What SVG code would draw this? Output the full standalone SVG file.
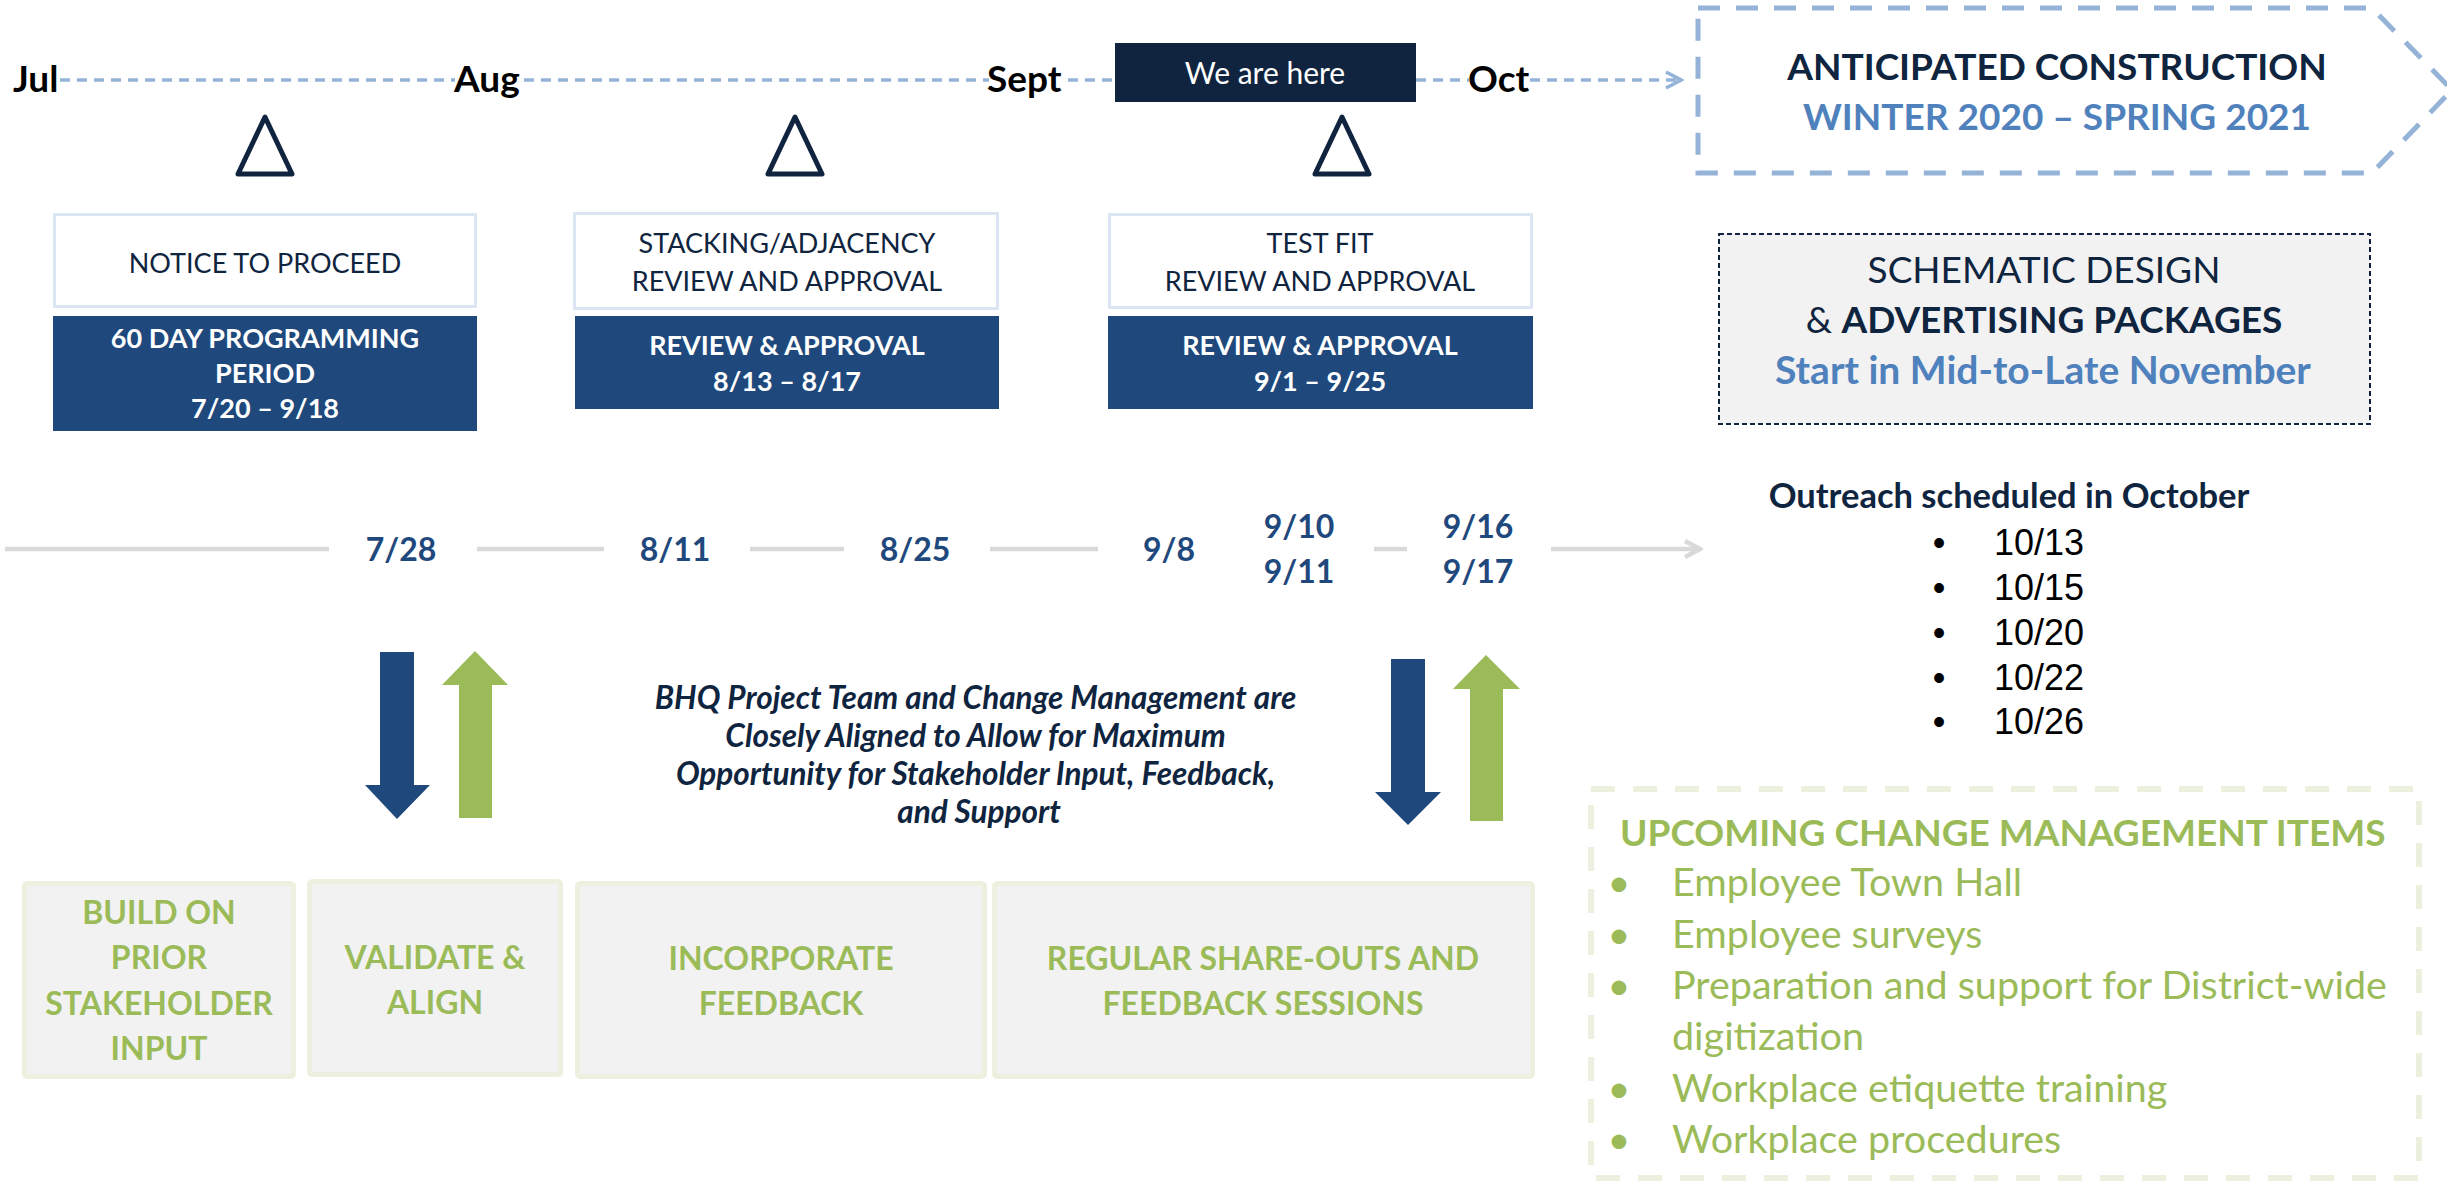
<svg xmlns="http://www.w3.org/2000/svg" width="2447" height="1181" viewBox="0 0 2447 1181">
  <defs>
    <style>
      .lato { font-family: Lato, "Open Sans", "DejaVu Sans", sans-serif; }
      .month { font-family: Lato, sans-serif; font-weight: 700; font-size: 37px; fill: #000; }
      .navytxt { fill: #0f243e; }
      .boxtxt { font-family: Lato, sans-serif; font-size: 27px; fill: #0f243e; text-anchor: middle; }
      .boxtxt-w { font-family: Lato, sans-serif; font-weight: 700; font-size: 27px; fill: #fff; text-anchor: middle; }
      .date { font-family: Lato, sans-serif; font-weight: 700; font-size: 32px; fill: #1f497d; text-anchor: middle; }
      .step { font-family: Lato, sans-serif; font-weight: 700; font-size: 32px; fill: #9bbb59; text-anchor: middle; }
      .item { font-family: Lato, sans-serif; font-size: 39.5px; fill: #9bbb59; }
      .outdate { font-family: "Liberation Sans", Arial, sans-serif; font-size: 36px; fill: #000; }
      .wbox { fill: #fff; stroke: #dce6f2; stroke-width: 3; }
      .nbox { fill: #1f497d; }
      .gbox { fill: #f2f2f2; stroke: #ebf1de; stroke-width: 5; }
      .tri { fill: none; stroke: #10243f; stroke-width: 5; stroke-linejoin: round; }
      .timeline { fill: none; stroke: #95b3d7; stroke-width: 3.5; stroke-dasharray: 10 7; }
      .grey { fill: none; stroke: #d9d9d9; stroke-width: 4.5; }
    </style>
    <marker id="blueHead" markerUnits="userSpaceOnUse" viewBox="0 0 20 20" refX="17" refY="10" markerWidth="20" markerHeight="20" orient="auto">
      <path d="M2,2 L17,10 L2,18" fill="none" stroke="#95b3d7" stroke-width="3.5" stroke-linejoin="miter"/>
    </marker>
    <marker id="greyHead" markerUnits="userSpaceOnUse" viewBox="0 0 20 20" refX="17" refY="10" markerWidth="20" markerHeight="20" orient="auto">
      <path d="M2,2 L17,10 L2,18" fill="none" stroke="#d9d9d9" stroke-width="4.5" stroke-linejoin="miter"/>
    </marker>
  </defs>

  <rect width="2447" height="1181" fill="#fff"/>

  <!-- timeline rails -->
  <g id="connectors">
    <path class="timeline" d="M60,80 H455"/>
    <path class="timeline" d="M524,80 H989"/>
    <path class="timeline" d="M1068,80 H1115"/>
    <path class="timeline" d="M1416,80 H1469"/>
    <path class="timeline" d="M1530,80 H1681" marker-end="url(#blueHead)"/>

    <path class="grey" d="M5,549 H329"/>
    <path class="grey" d="M477,549 H604"/>
    <path class="grey" d="M750,549 H844"/>
    <path class="grey" d="M990,549 H1098"/>
    <path class="grey" d="M1374,549 H1407"/>
    <path class="grey" d="M1551,549 H1700" marker-end="url(#greyHead)"/>

    <!-- exchange arrows -->
    <path id="down-left" d="M380,652 H414 V785 H430 L397,819 L365,785 H380 Z" fill="#1f497d"/>
    <path id="up-left" d="M459,818 V685 H442 L475,651 L508,685 H492 V818 Z" fill="#9bbb59"/>
    <path id="down-right" d="M1391,659 H1425 V792 H1441 L1408,825 L1375,792 H1391 Z" fill="#1f497d"/>
    <path id="up-right" d="M1470,821 V689 H1453 L1486,655 L1520,689 H1503 V821 Z" fill="#9bbb59"/>
  </g>

  <!-- month labels -->
  <g id="months">
    <text class="month" x="13" y="92">Jul</text>
    <text class="month" x="454" y="92">Aug</text>
    <text class="month" x="987" y="92">Sept</text>
    <text class="month" x="1468" y="92">Oct</text>
  </g>

  <g id="we-are-here">
    <rect x="1115" y="43" width="301" height="59" fill="#10243f"/>
    <text class="lato" x="1265" y="84" font-size="30" fill="#fff" text-anchor="middle">We are here</text>
  </g>

  <g id="construction">
    <path d="M1698,8 H2372 L2452,90 L2372,173 H1698 Z" fill="none" stroke="#95b3d7" stroke-width="5" stroke-dasharray="22 16"/>
    <text class="lato navytxt" x="2057" y="80" font-size="37" font-weight="700" text-anchor="middle">ANTICIPATED CONSTRUCTION</text>
    <text class="lato" x="2057" y="130" font-size="37" font-weight="700" fill="#4f81bd" text-anchor="middle">WINTER 2020 – SPRING 2021</text>
  </g>

  <!-- milestone markers -->
  <g id="milestone-1">
    <path class="tri" d="M265,117 L292,174 H238 Z"/>
    <rect class="wbox" x="54.5" y="214.5" width="421" height="92"/>
    <text class="boxtxt" x="265" y="273">NOTICE TO PROCEED</text>
    <rect class="nbox" x="53" y="316" width="424" height="115"/>
    <text class="boxtxt-w" x="265" y="348">60 DAY PROGRAMMING</text>
    <text class="boxtxt-w" x="265" y="383">PERIOD</text>
    <text class="boxtxt-w" x="265" y="418">7/20 – 9/18</text>
  </g>

  <g id="milestone-2">
    <path class="tri" d="M795,117 L822,174 H768 Z"/>
    <rect class="wbox" x="574.5" y="213.5" width="423" height="95"/>
    <text class="boxtxt" x="787" y="253">STACKING/ADJACENCY</text>
    <text class="boxtxt" x="787" y="291">REVIEW AND APPROVAL</text>
    <rect class="nbox" x="575" y="316" width="424" height="93"/>
    <text class="boxtxt-w" x="787" y="355">REVIEW &amp; APPROVAL</text>
    <text class="boxtxt-w" x="787" y="391">8/13 – 8/17</text>
  </g>

  <g id="milestone-3">
    <path class="tri" d="M1342,117 L1369,174 H1315 Z"/>
    <rect class="wbox" x="1109.5" y="214.5" width="422" height="93"/>
    <text class="boxtxt" x="1320" y="253">TEST FIT</text>
    <text class="boxtxt" x="1320" y="291">REVIEW AND APPROVAL</text>
    <rect class="nbox" x="1108" y="316" width="425" height="93"/>
    <text class="boxtxt-w" x="1320" y="355">REVIEW &amp; APPROVAL</text>
    <text class="boxtxt-w" x="1320" y="391">9/1 – 9/25</text>
  </g>

  <g id="schematic">
    <rect x="1719" y="234" width="651" height="190" fill="#f2f2f2" stroke="#0f243e" stroke-width="2" stroke-dasharray="5 3"/>
    <text class="lato navytxt" x="2044" y="283" font-size="37" text-anchor="middle">SCHEMATIC DESIGN</text>
    <text class="lato navytxt" x="2044" y="333" font-size="37" text-anchor="middle">&amp; <tspan font-weight="700">ADVERTISING PACKAGES</tspan></text>
    <text class="lato" x="2043" y="384" font-size="39" font-weight="700" fill="#4f81bd" text-anchor="middle">Start in Mid-to-Late November</text>
  </g>

  <!-- review dates -->
  <g id="dates">
    <text class="date" x="401" y="561">7/28</text>
    <text class="date" x="675" y="561">8/11</text>
    <text class="date" x="915" y="561">8/25</text>
    <text class="date" x="1169" y="561">9/8</text>
    <text class="date" x="1299" y="538">9/10</text>
    <text class="date" x="1299" y="583">9/11</text>
    <text class="date" x="1478" y="538">9/16</text>
    <text class="date" x="1478" y="583">9/17</text>
  </g>

  <g id="alignment-note">
    <text class="lato navytxt" font-size="31.5" font-weight="700" font-style="italic" text-anchor="middle">
      <tspan x="979" y="709">BHQ Project Team and Change Management are</tspan>
      <tspan x="979" y="747">Closely Aligned to Allow for Maximum</tspan>
      <tspan x="979" y="785">Opportunity for Stakeholder Input, Feedback,</tspan>
      <tspan x="979" y="823">and Support</tspan>
    </text>
  </g>

  <!-- engagement steps -->
  <g id="step-build">
    <rect class="gbox" x="24.5" y="883.5" width="269" height="193" rx="3"/>
    <text class="step"><tspan x="159" y="924">BUILD ON</tspan><tspan x="159" y="969">PRIOR</tspan><tspan x="159" y="1015">STAKEHOLDER</tspan><tspan x="159" y="1060">INPUT</tspan></text>
  </g>
  <g id="step-validate">
    <rect class="gbox" x="309.5" y="881.5" width="251" height="193" rx="3"/>
    <text class="step"><tspan x="435" y="969">VALIDATE &amp;</tspan><tspan x="435" y="1014">ALIGN</tspan></text>
  </g>
  <g id="step-incorporate">
    <rect class="gbox" x="577.5" y="883.5" width="407" height="193" rx="3"/>
    <text class="step"><tspan x="781" y="970">INCORPORATE</tspan><tspan x="781" y="1015">FEEDBACK</tspan></text>
  </g>
  <g id="step-shareouts">
    <rect class="gbox" x="994.5" y="883.5" width="538" height="193" rx="3"/>
    <text class="step"><tspan x="1263" y="970">REGULAR SHARE-OUTS AND</tspan><tspan x="1263" y="1015">FEEDBACK SESSIONS</tspan></text>
  </g>

  <g id="outreach">
    <text class="lato navytxt" x="2009" y="508" font-size="34.5" font-weight="700" text-anchor="middle">Outreach scheduled in October</text>
    <g class="outdate">
      <text x="1939" y="555" text-anchor="middle">•</text><text x="1994" y="555">10/13</text>
      <text x="1939" y="600" text-anchor="middle">•</text><text x="1994" y="600">10/15</text>
      <text x="1939" y="645" text-anchor="middle">•</text><text x="1994" y="645">10/20</text>
      <text x="1939" y="690" text-anchor="middle">•</text><text x="1994" y="690">10/22</text>
      <text x="1939" y="734" text-anchor="middle">•</text><text x="1994" y="734">10/26</text>
    </g>
  </g>

  <g id="change-items">
    <rect x="1591" y="789" width="828" height="389" fill="none" stroke="#ebf1de" stroke-width="6" stroke-dasharray="24 18"/>
    <text class="lato" x="1620" y="846" font-size="37" font-weight="700" fill="#9bbb59">UPCOMING CHANGE MANAGEMENT ITEMS</text>
    <g class="item">
      <text x="1619" y="896" text-anchor="middle">•</text><text x="1672" y="896">Employee Town Hall</text>
      <text x="1619" y="948" text-anchor="middle">•</text><text x="1672" y="948">Employee surveys</text>
      <text x="1619" y="999" text-anchor="middle">•</text><text x="1672" y="999">Preparation and support for District-wide</text>
      <text x="1672" y="1050">digitization</text>
      <text x="1619" y="1102" text-anchor="middle">•</text><text x="1672" y="1102">Workplace etiquette training</text>
      <text x="1619" y="1153" text-anchor="middle">•</text><text x="1672" y="1153">Workplace procedures</text>
    </g>
  </g>
</svg>
